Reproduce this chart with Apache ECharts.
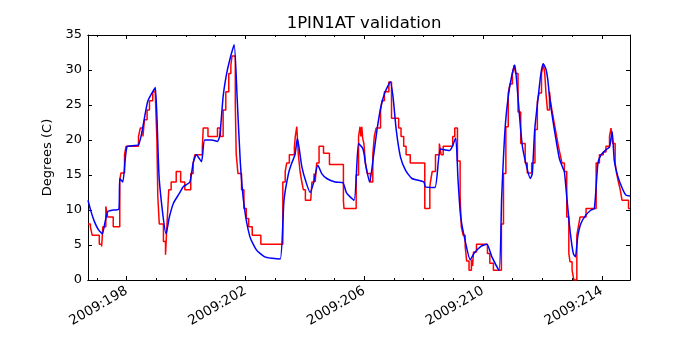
<!DOCTYPE html>
<html>
<head>
<meta charset="utf-8">
<script src="https://cdn.jsdelivr.net/npm/echarts@6/dist/echarts.min.js"></script>
<style>
  html, body { margin: 0; padding: 0; background: #fff; }
  #chart { width: 700px; height: 350px; }
</style>
</head>
<body>
<div id="chart"></div>
<script>
// x values are day-of-year 2009, y values are degrees C
const dayTicks = [197, 198, 199, 200, 201, 202, 203, 204, 205, 206, 207, 208, 209, 210, 211, 212, 213, 214];
const dayLabels = [198, 202, 206, 210, 214];
const yTicks = [0, 5, 10, 15, 20, 25, 30, 35];

// measured (red, stepped)
const redDays = [
  196.70, 196.78, 196.84, 197.08, 197.16, 197.20, 197.30, 197.36, 197.55, 197.77,
  197.81, 197.93, 197.98, 198.40, 198.46, 198.55, 198.60, 198.69, 198.77, 198.88,
  198.96, 199.02, 199.05, 199.10, 199.24, 199.31, 199.36, 199.42, 199.50, 199.67,
  199.82, 199.96, 200.16, 200.24, 200.30, 200.55, 200.58, 200.74, 201.06, 201.16,
  201.25, 201.34, 201.44, 201.51, 201.55, 201.66, 201.69, 201.75, 201.87, 201.95,
  202.00, 202.03, 202.11, 202.23, 202.52, 203.15, 203.26, 203.34, 203.39, 203.48,
  203.65, 203.68, 203.73, 203.78, 203.84, 203.90, 203.95, 204.02, 204.20, 204.24,
  204.31, 204.35, 204.40, 204.48, 204.63, 204.83, 205.30, 205.32, 205.66, 205.73,
  205.81, 205.86, 205.89, 205.92, 205.95, 205.99, 206.04, 206.10, 206.21, 206.29,
  206.34, 206.40, 206.55, 206.60, 206.68, 206.83, 206.92, 207.16, 207.24, 207.33,
  207.41, 207.55, 208.04, 208.21, 208.23, 208.29, 208.40, 208.53, 208.59, 208.66,
  208.98, 209.05, 209.14, 209.23, 209.27, 209.33, 209.40, 209.45, 209.53, 209.61,
  209.65, 209.68, 209.78, 210.15, 210.23, 210.35, 210.62, 210.69, 210.77, 210.85,
  210.91, 210.99, 211.05, 211.10, 211.18, 211.27, 211.42, 211.49, 211.64, 211.75,
  211.83, 211.89, 211.97, 212.03, 212.08, 212.12, 212.17, 212.24, 212.27, 212.32,
  212.37, 212.43, 212.48, 212.54, 212.60, 212.66, 212.74, 212.82, 212.89, 212.93,
  213.00, 213.06, 213.16, 213.21, 213.27, 213.47, 213.81, 213.92, 214.05, 214.14,
  214.26, 214.31, 214.37, 214.45, 214.50, 214.56, 214.62, 214.68, 214.90, 214.95
];
const redTemps = [
  8.0, 7.6, 6.4, 5.1, 4.8, 7.6, 10.5, 9.0, 7.6, 14.3,
  15.3, 17.9, 19.1, 20.5, 21.7, 20.5, 22.9, 24.3, 25.6, 26.9,
  27.3, 20.0, 12.0, 8.0, 5.5, 3.6, 8.0, 12.9, 14.0, 15.5,
  14.0, 12.9, 15.2, 16.7, 17.9, 19.0, 21.7, 20.5, 21.7, 20.5,
  24.3, 26.9, 29.5, 30.7, 32.0, 25.0, 18.0, 15.2, 12.9, 10.2,
  10.2, 8.8, 7.6, 6.4, 5.1, 5.1, 14.0, 15.5, 16.7, 17.9,
  19.0, 20.5, 21.9, 18.0, 15.5, 14.0, 12.9, 11.4, 11.4, 14.0,
  15.2, 14.0, 16.7, 19.1, 18.1, 16.5, 11.3, 10.2, 10.2, 15.0,
  20.5, 21.9, 20.5, 21.9, 20.2, 19.5, 16.7, 15.2, 14.0, 17.9,
  20.5, 21.7, 24.3, 25.6, 26.9, 28.3, 23.1, 21.7, 20.5, 19.1,
  17.9, 16.7, 10.2, 13.3, 14.0, 15.5, 17.9, 19.5, 17.9, 19.1,
  20.5, 21.7, 17.0, 11.9, 7.6, 6.4, 4.8, 2.7, 1.4, 2.9,
  2.0, 4.0, 5.1, 3.8, 2.4, 1.4, 8.0, 15.2, 21.9, 26.7,
  28.0, 29.5, 30.7, 29.5, 24.0, 19.5, 16.7, 15.3, 16.7, 21.5,
  25.5, 26.7, 29.5, 30.9, 29.5, 26.7, 24.3, 26.9, 25.6, 24.3,
  23.1, 21.7, 20.5, 19.1, 17.9, 16.7, 15.5, 9.0, 3.8, 2.6,
  1.4, 0.0, 6.4, 7.6, 9.0, 10.2, 16.7, 17.9, 18.3, 19.1,
  20.5, 21.7, 19.5, 16.7, 15.2, 14.0, 12.9, 11.4, 10.2, 10.2
];

// model (blue)
const blueDays = [
  196.70, 196.80, 196.92, 197.05, 197.18, 197.27, 197.37, 197.55, 197.74, 197.77,
  197.87, 198.01, 198.26, 198.40, 198.50, 198.57, 198.71, 198.88, 198.97, 199.10,
  199.33, 199.44, 199.58, 199.78, 199.90, 200.13, 200.24, 200.35, 200.52, 200.63,
  200.86, 201.06, 201.14, 201.25, 201.36, 201.47, 201.62, 201.72, 201.83, 201.96,
  202.15, 202.37, 202.65, 202.90, 203.17, 203.30, 203.45, 203.56, 203.67, 203.75,
  203.90, 204.04, 204.18, 204.29, 204.44, 204.57, 204.74, 205.02, 205.28, 205.41,
  205.66, 205.81, 205.95, 206.00, 206.04, 206.18, 206.32, 206.43, 206.55, 206.69,
  206.88, 206.97, 207.08, 207.22, 207.39, 207.61, 208.01, 208.06, 208.38, 208.57,
  208.87, 208.96, 209.08, 209.16, 209.25, 209.42, 209.57, 209.70, 209.93, 210.13,
  210.30, 210.54, 210.63, 210.74, 210.85, 210.96, 211.07, 211.13, 211.25, 211.33,
  211.47, 211.59, 211.66, 211.74, 211.86, 211.95, 212.03, 212.12, 212.18, 212.24,
  212.35, 212.46, 212.57, 212.69, 212.74, 212.82, 212.93, 213.04, 213.11, 213.19,
  213.30, 213.47, 213.64, 213.75, 213.87, 213.98, 214.14, 214.26, 214.35, 214.42,
  214.54, 214.71, 214.82, 214.95
];
const blueTemps = [
  11.4, 9.8, 8.3, 7.2, 6.6, 8.2, 9.8, 10.0, 10.1, 14.5,
  14.0, 19.0, 19.2, 19.3, 20.8, 22.4, 25.5, 26.9, 27.5, 14.3,
  6.6, 9.0, 11.0, 12.4, 13.3, 14.0, 16.7, 17.9, 16.9, 20.0,
  20.0, 19.8, 20.7, 26.2, 29.3, 31.4, 33.6, 26.2, 16.7, 10.5,
  6.2, 4.3, 3.3, 3.1, 3.0, 11.4, 15.2, 16.7, 17.9, 20.2,
  16.2, 14.0, 12.5, 13.8, 16.4, 15.2, 14.5, 14.0, 13.9, 12.4,
  11.4, 19.5, 18.8, 17.9, 16.7, 14.0, 17.9, 21.4, 24.5, 26.7,
  28.3, 26.2, 21.4, 17.6, 15.7, 14.5, 14.0, 13.3, 13.2, 18.7,
  18.5, 19.0, 20.3, 14.3, 9.0, 5.2, 2.9, 3.8, 4.8, 5.1,
  3.3, 1.4, 11.9, 21.4, 26.2, 29.0, 30.7, 28.6, 22.4, 19.0,
  16.2, 14.5, 15.2, 21.4, 26.2, 29.5, 30.9, 30.1, 28.7, 26.2,
  22.9, 20.0, 17.4, 16.0, 15.5, 11.9, 7.1, 3.8, 3.3, 6.2,
  8.1, 9.3, 10.0, 10.2, 16.7, 17.9, 18.6, 19.0, 21.2, 17.1,
  14.8, 12.9, 12.1, 12.0
];

const xMin = 196.70, xMax = 214.95;
const font = 'DejaVu Sans';

function xAxisCfg(position, values, len, showLabel) {
  return {
    type: 'value', position: position, min: xMin, max: xMax,
    axisLine: { show: true, onZero: false, lineStyle: { color: '#000', width: 1 } },
    axisTick: { show: true, inside: true, length: len, customValues: values,
                lineStyle: { color: '#000', width: 1 } },
    axisLabel: showLabel ? {
      show: true, customValues: dayLabels, rotate: 30, margin: 10,
      color: '#000', fontFamily: font, fontSize: 13.5,
      formatter: v => '2009:' + Math.round(v)
    } : { show: false },
    splitLine: { show: false }
  };
}

const chart = echarts.init(document.getElementById('chart'));
chart.setOption({
  animation: false,
  backgroundColor: '#fff',
  title: {
    text: '1PIN1AT validation', left: 359, top: 10, textAlign: 'center',
    textStyle: { fontFamily: font, fontSize: 16.5, fontWeight: 'normal', color: '#000' }
  },
  grid: { left: 88, right: 70, top: 35, bottom: 70 },
  xAxis: [
    xAxisCfg('bottom', dayTicks, 2, true),
    xAxisCfg('bottom', dayLabels, 4, false),
    xAxisCfg('top', dayTicks, 2, false),
    xAxisCfg('top', dayLabels, 4, false)
  ],
  yAxis: [
    {
      type: 'value', position: 'left', min: 0, max: 35, interval: 5,
      name: 'Degrees (C)', nameLocation: 'middle', nameGap: 30,
      nameTextStyle: { fontFamily: font, fontSize: 13, color: '#000' },
      axisLine: { show: true, lineStyle: { color: '#000', width: 1 } },
      axisTick: { show: true, inside: true, length: 4, lineStyle: { color: '#000' } },
      axisLabel: { color: '#000', fontFamily: font, fontSize: 13, margin: 6 },
      splitLine: { show: false }
    },
    {
      type: 'value', position: 'right', min: 0, max: 35, interval: 5,
      axisLine: { show: true, lineStyle: { color: '#000', width: 1 } },
      axisTick: { show: true, inside: true, length: 4, lineStyle: { color: '#000' } },
      axisLabel: { show: false },
      splitLine: { show: false }
    }
  ],
  series: [
    {
      type: 'line', step: 'end', symbol: 'none',
      data: redDays.map((d, i) => [d, redTemps[i]]),
      lineStyle: { color: '#ff0000', width: 1.5 }
    },
    {
      type: 'line', smooth: 0.2, symbol: 'none',
      data: blueDays.map((d, i) => [d, blueTemps[i]]),
      lineStyle: { color: '#0000ff', width: 1.5 }
    }
  ]
});
</script>
</body>
</html>
